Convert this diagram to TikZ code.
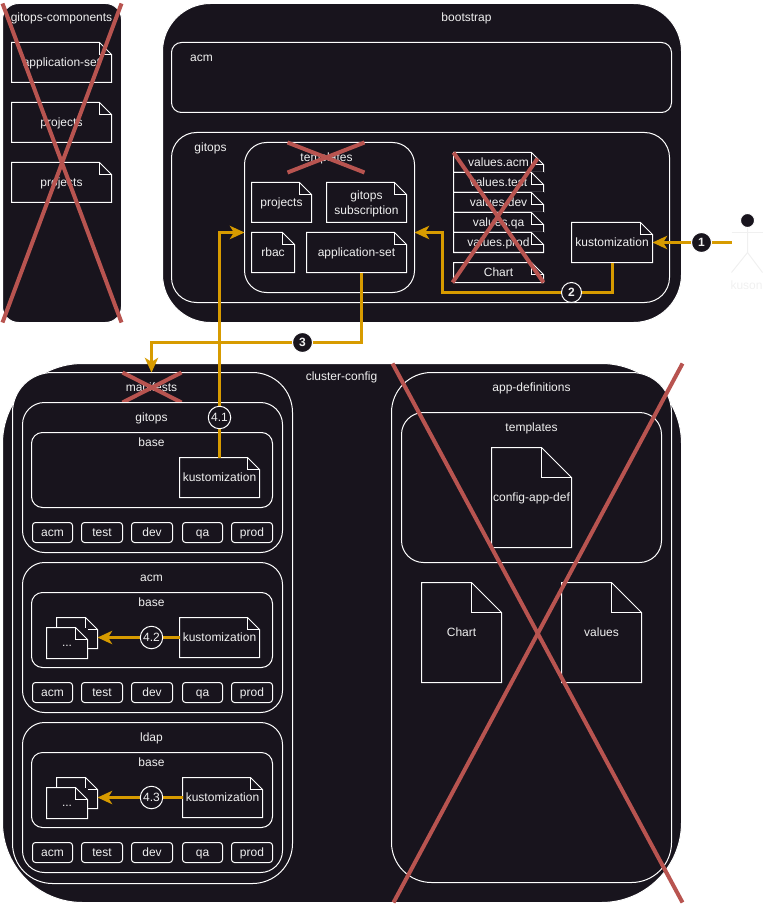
\documentclass[tikz,border=0pt]{standalone}
\usepackage{fontspec}
\setmainfont{Liberation Sans}
\usetikzlibrary{arrows.meta,calc}

\definecolor{panelbg}{HTML}{18141D}
\definecolor{labelgray}{HTML}{F0F0F0}
\definecolor{flowgold}{HTML}{D79B00}
\definecolor{crossred}{HTML}{B85450}

\def\px{0.75pt}
\newcommand{\labelstrut}{\rule[-2.8pt]{0pt}{11.3pt}}

\tikzset{
  title/.style={text=labelgray, font=\fontsize{9pt}{10.5pt}\selectfont, inner sep=0pt, align=center,
    execute at begin node=\labelstrut},
  panel/.style={draw=white, line width=\px, fill=panelbg, inner sep=0pt, outer sep=0pt, rectangle},
  filebox/.style={title, fill=panelbg, outer sep=0pt, rectangle},
  fileline/.style={draw=white, line width=\px},
  stepmark/.style={title, circle, draw=white, line width=0.75pt, fill=panelbg, minimum size=20*\px},
  flow/.style={draw=flowgold, line width=2.25pt, -{Stealth[length=11pt,width=10pt,inset=3pt]}},
  crossout/.style={draw=crossred, line width=3pt},
  actorline/.style={draw=labelgray, line width=\px}
}

% name, left, top, width, height, radius
\newcommand{\panelbox}[6]{
  \node[panel, anchor=north west, minimum width=#4*\px, minimum height=#5*\px,
    rounded corners=#6*\px] (#1) at (#2,#3) {};
}
% [fold], name, left, top, width, height, text
\newcommand{\filenode}[7][12]{
  \node[filebox, anchor=north west, minimum width=#5*\px, minimum height=#6*\px] (#2) at (#3,#4) {#7};
  \draw[fileline] (#2.north west) -- ($(#2.north east)+(-#1,0)$) -- ($(#2.north east)+(0,#1)$)
    -- (#2.south east) -- (#2.south west) -- cycle;
  \draw[fileline] ($(#2.north east)+(-#1,0)$) -- ++(0,#1) -- ($(#2.north east)+(0,#1)$);
}

\begin{document}
\begin{tikzpicture}[x=0.75pt, y=-0.75pt]
  \useasboundingbox (-0.5,-0.5) rectangle (762.5,904.5);

  % gitops-components
  \panelbox{components}{2}{3}{119}{319}{16}
  \node[title] (componentstitle) at (61,17) {gitops-components};
  \filenode{componentsappset}{11}{42}{100}{40}{application-set}
  \filenode{componentsprojects}{11}{102}{100}{40}{projects}
  \filenode{componentsprojectsb}{11}{162}{100}{40}{projects}
  \draw[crossout] (2,3) -- (121,322);
  \draw[crossout] (121,3) -- (2,322);

  % bootstrap
  \panelbox{bootstrap}{162}{3}{519}{319}{48}
  \node[title] (bootstraptitle) at (466,17) {bootstrap};
  \panelbox{bootacm}{171}{42}{500}{70}{10}
  \node[title] (bootacmtitle) at (201,57) {acm};
  \panelbox{bootgitops}{171}{132}{498}{170}{25}
  \node[title] (bootgitopstitle) at (210,147) {gitops};
  \panelbox{boottemplates}{244}{142}{170}{150}{22}
  \node[title] (boottemplatestitle) at (326,157) {templates};
  \filenode{bootprojects}{251}{182}{60}{40}{projects}
  \filenode{bootsubscription}{326}{182}{80}{40}{\raisebox{-6pt}[0pt][0pt]{\shortstack{gitops\\subscription}}}
  \filenode{bootrbac}{251}{232}{43}{40}{rbac}
  \filenode{bootappset}{306}{232}{100}{40}{application-set}
  \draw[crossout] (287,142) -- (364,172);
  \draw[crossout] (287,172) -- (364,142);

  % values files and chart
  \foreach \valname/\y in {acm/152, test/172, dev/192, qa/212, prod/232} {
    \filenode{values\valname}{453}{\y}{90}{20}{values.\valname}
  }
  \filenode{bootchart}{453}{262}{90}{20}{Chart}
  \draw[crossout] (453,152) -- (543,282);
  \draw[crossout] (537,158) -- (452,282);
  \filenode{bootkustomization}{571}{222}{81}{40}{kustomization}

  % kuson
  \node[circle, fill=panelbg, draw=white, line width=\px, minimum size=14*\px, inner sep=0pt] (kusonhead) at (747,220) {};
  \coordinate (kusonwaist) at (747,252);
  \coordinate (kusonhand) at (731,242);
  \draw[actorline] (kusonhead.south) -- (kusonwaist) -- (731,272);
  \draw[actorline] (kusonwaist) -- (762,272);
  \draw[actorline] (731,232) -- (762,232);
  \node[title] (kusonlabel) at (746,285) {kuson};

  % cluster-config
  \panelbox{cluster}{2}{363}{679}{539}{80}
  \node[title] (clustertitle) at (341,376) {cluster-config};
  \panelbox{manifests}{12}{372}{280}{511}{40}
  \node[title] (manifeststitle) at (151,387) {manifests};
  \draw[crossout] (122,372) -- (181,402);
  \draw[crossout] (122,402) -- (181,372);

  \foreach \grp/\y in {gitops/402, acm/562, ldap/722} {
    \panelbox{\grp}{22}{\y}{260}{150}{22}
    \node[title] (\grp title) at (151,\y+15) {\grp};
    \panelbox{\grp base}{31}{\y+30}{241}{75}{11}
    \node[title] (\grp basetitle) at (151,\y+40) {base};
    \foreach \envname/\x/\w in {acm/32/40, test/81/41, dev/131/41, qa/182/40, prod/231/41} {
      \node[panel, title, draw=white, anchor=north west, minimum width=\w*\px, minimum height=20*\px,
        rounded corners=3*\px] (\grp\envname) at (\x,\y+120) {\envname};
    }
  }

  \filenode{gitopskustomization}{179}{457}{80}{40}{kustomization}
  \filenode{acmkustomization}{179}{617}{80}{40}{kustomization}
  \filenode{ldapkustomization}{182}{777}{80}{40}{kustomization}
  \filenode{acmfileback}{56}{617}{41}{31}{}
  \filenode{acmfile}{46}{627}{41}{31}{...}
  \filenode{ldapfileback}{56}{777}{41}{31}{}
  \filenode{ldapfile}{46}{787}{41}{31}{...}

  % app-definitions
  \panelbox{appdefs}{391}{372}{280}{510}{40}
  \node[title] (appdefstitle) at (531,387) {app-definitions};
  \panelbox{appdeftemplates}{401}{412}{260}{150}{22}
  \node[title] (appdeftemplatestitle) at (531,427) {templates};
  \filenode[30]{configappdef}{491}{447}{80}{100}{config-app-def}
  \filenode[30]{appdefchart}{421}{582}{80}{100}{Chart}
  \filenode[30]{appdefvalues}{561}{582}{80}{100}{values}
  \draw[crossout] (392,363) -- (682,902);
  \draw[crossout] (682,363) -- (393,902);

  % Flows
  \coordinate (appsetout) at (361,272);
  \coordinate (bendtwo) at (442,292);
  \coordinate (templatesright) at (414,232);
  \coordinate (templatesleft) at (244,232);
  \coordinate (bendthree) at (151,342);
  \coordinate (manifeststop) at (151,372);
  \draw[flow] (kusonhand) -- (bootkustomization.east |- kusonhand);
  \draw[flow] (bootkustomization.south) |- (bendtwo) |- (templatesright);
  \draw[flow] (appsetout) |- (bendthree) -- (manifeststop);
  \draw[flow] (gitopskustomization.north) |- (templatesleft);
  \draw[flow] (acmkustomization.west) -- (acmfileback.east |- acmkustomization.west);
  \draw[flow] (ldapkustomization.west) -- (ldapfileback.east |- ldapkustomization.west);

  % Step marks
  \node[stepmark, font=\fontsize{9pt}{10.5pt}\selectfont\bfseries] (stepone) at (701,242) {1};
  \node[stepmark, font=\fontsize{9pt}{10.5pt}\selectfont\bfseries] (steptwo) at (571,292) {2};
  \node[stepmark, font=\fontsize{9pt}{10.5pt}\selectfont\bfseries] (stepthree) at (302,342) {3};
  \node[stepmark] (stepfourone) at (219,417) {4.1};
  \node[stepmark] (stepfourtwo) at (151,637) {4.2};
  \node[stepmark] (stepfourthree) at (151,797) {4.3};
\end{tikzpicture}
\end{document}
